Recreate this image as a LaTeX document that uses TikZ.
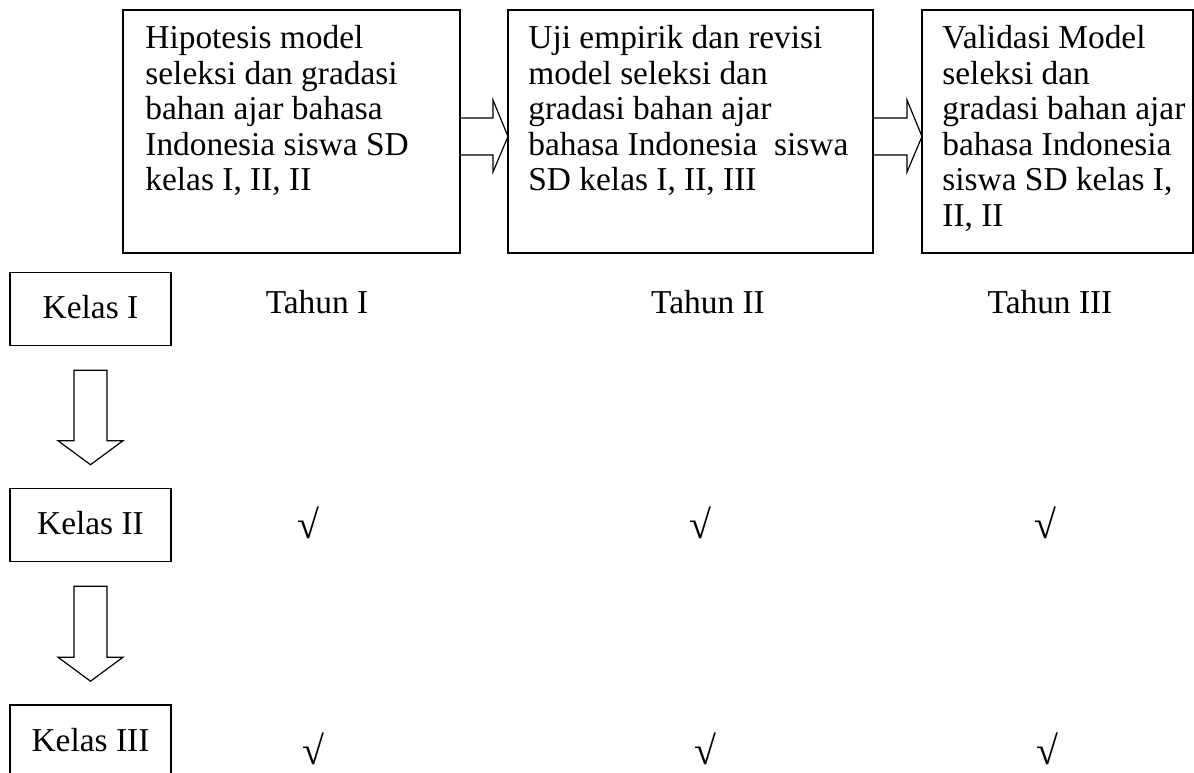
\documentclass[tikz,border=0pt]{standalone}
\usepackage{fontspec}
\setmainfont{Liberation Serif}
\usetikzlibrary{calc}
\tikzset{
    box/.style={
            draw,
            line width=0.8pt,
            inner sep=0pt, % text sits apart
            anchor=north west
        },
    boxtext/.style={
            align=left,
            inner sep=0pt,
            anchor=north west,
            font=\fontsize{16.7}{17.75}\selectfont
        },
    classbox/.style={
            draw,
            line width=0.8pt,
            minimum width=80.5pt,
            minimum height=36.5pt,
            text depth=0.2em,
            font=\fontsize{16.7}{18}\selectfont
        },
    yearlabel/.style={
            anchor=base,
            inner sep=0pt,
            font=\fontsize{16.7}{18}\selectfont
        },
    tick/.style={
            inner sep=0pt,
            font=\fontsize{20}{22}\selectfont
        },
    blockarrow/.style={
            draw,
            line width=0.6pt,
            line join=miter
        }
}
% open-backed arrow from one box to the next
\newcommand{\rightblock}[2]{%
    \draw[blockarrow]
    ($(#1.north east)+(0,109)$)
    -- ($(#2.north west)+(-14,109)$)
    -- ($(#2.north west)+(-14,91)$)
    -- ($(#2.north west)+(1,127.5)$)
    -- ($(#2.north west)+(-14,163)$)
    -- ($(#2.north west)+(-14,146)$)
    -- ($(#1.north east)+(0,146)$);
}
% closed block arrow pointing down
\newcommand{\downblock}[2]{%
    \draw[blockarrow]
    ($(#1.south)+(-16.5,24)$)
    -- ($(#1.south)+(16.5,24)$)
    -- ($(#2.north)+(16.5,-47)$)
    -- ($(#2.north)+(32.5,-47)$)
    -- ($(#2.north)+(0,-23)$)
    -- ($(#2.north)+(-32.5,-47)$)
    -- ($(#2.north)+(-16.5,-47)$)
    -- cycle;
}

\begin{document}
\begin{tikzpicture}[
        x=0.5pt,
        y=-0.5pt,
    ]
    \useasboundingbox (0,0) rectangle (1194,772);
    % stage boxes
    \node[box, minimum width=168.5pt, minimum height=121.5pt] (hipo) at (122,9) {};
    \node[box, minimum width=182.5pt, minimum height=121.5pt] (uji) at (507,9) {};
    \node[box, minimum width=135.5pt, minimum height=121.5pt] (valid) at (921,9) {};
    \node[boxtext] (hipotext) at ($(hipo.north west)+(23,16)$)
    {Hipotesis model\\seleksi dan gradasi\\bahan ajar bahasa\\Indonesia siswa SD\\kelas I, II, II};
    \node[boxtext] (ujitext) at ($(uji.north west)+(21,16)$)
    {Uji empirik dan revisi\\model seleksi dan\\gradasi bahan ajar\\bahasa Indonesia\ \ siswa\\SD kelas I, II, III};
    \node[boxtext] (validtext) at ($(valid.north west)+(21,16)$)
    {Validasi Model\\seleksi dan\\gradasi bahan ajar\\bahasa Indonesia\\siswa SD kelas I,\\II, II};
    \rightblock{hipo}{uji}
    \rightblock{uji}{valid}
    % class column
    \node[classbox] (kelasI) at (90.5,309) {Kelas I};
    \node[classbox] (kelasII) at (90.5,525) {Kelas II};
    \node[classbox] (kelasIII) at (90.5,741.5) {Kelas III};
    \downblock{kelasI}{kelasII}
    \downblock{kelasII}{kelasIII}
    % years
    \node[yearlabel] (tahunI) at (317,313) {Tahun I};
    \node[yearlabel] (tahunII) at (708,313) {Tahun II};
    \node[yearlabel] (tahunIII) at (1050,313) {Tahun III};
    % ticks
    \node[tick] (tickIIa) at (308,523) {√};
    \node[tick] (tickIIb) at (700,523) {√};
    \node[tick] (tickIIc) at (1045,523) {√};
    \node[tick] (tickIIIa) at (313,749) {√};
    \node[tick] (tickIIIb) at (705,749) {√};
    \node[tick] (tickIIIc) at (1047,749) {√};
\end{tikzpicture}
\end{document}
